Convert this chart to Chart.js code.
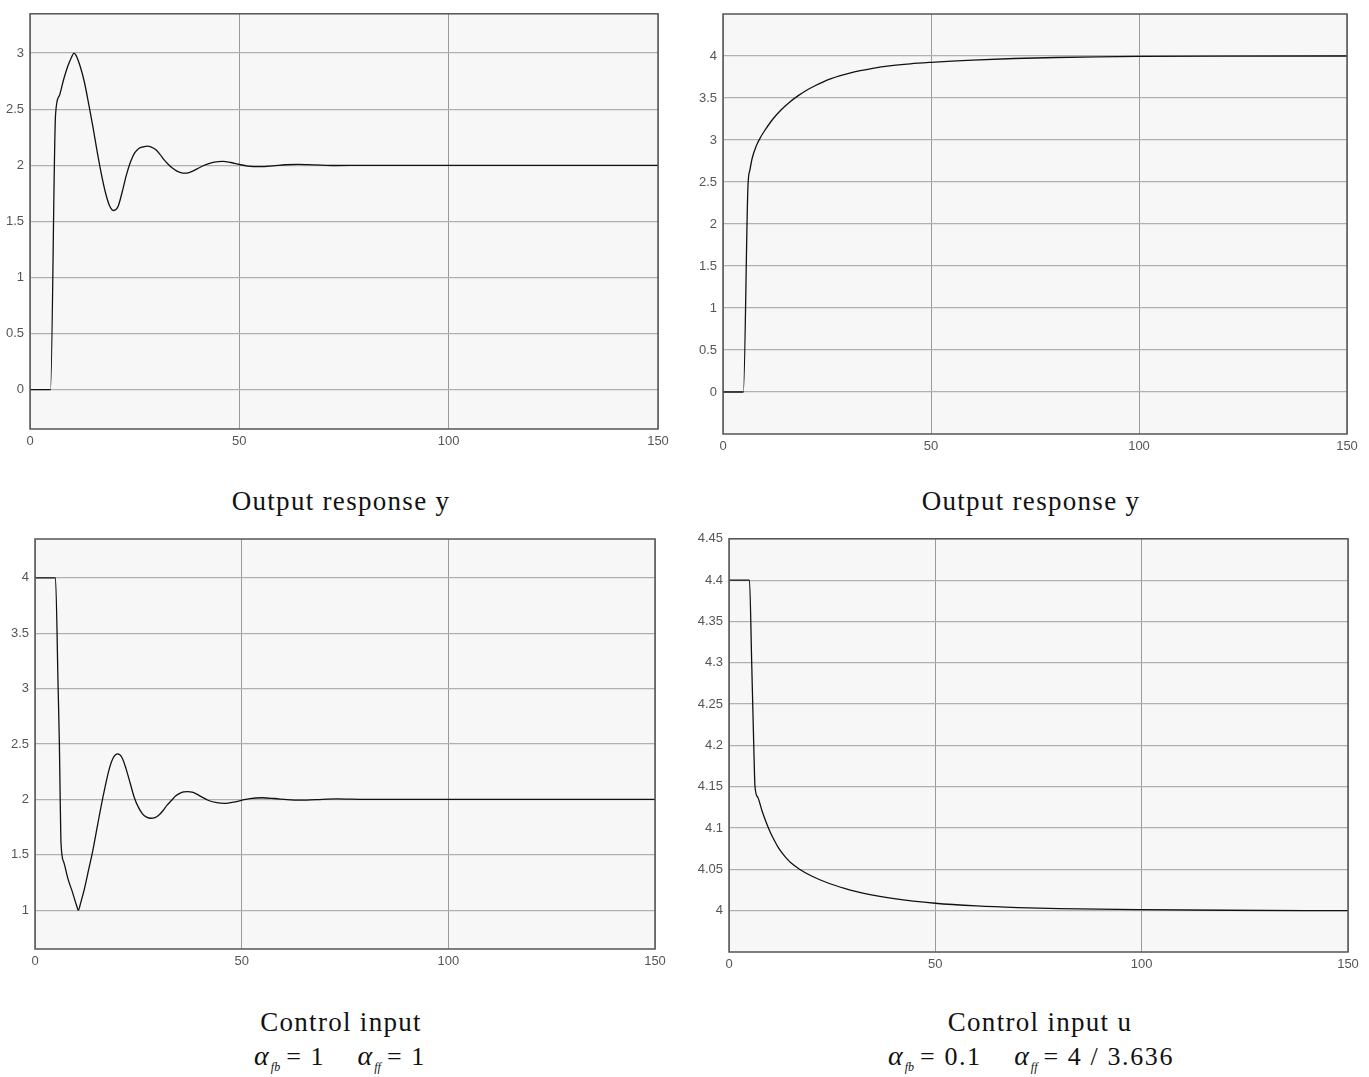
<!DOCTYPE html>
<html>
<head>
<meta charset="utf-8">
<script src="https://cdn.jsdelivr.net/npm/chart.js@4"></script>
<style>
  body { margin: 0; background: #fff; width: 1369px; height: 1077px; position: relative; overflow: hidden; }
  canvas { position: absolute; }
  .cap { position: absolute; width: 400px; text-align: center; font-family: 'Liberation Serif', 'DejaVu Serif', serif; font-size: 27px; letter-spacing: 1.3px; color: #111; white-space: nowrap; }
  .cap i { font-size: 28px; letter-spacing: 0; }
  .cap sub { font-size: 12px; font-style: italic; vertical-align: -6px; margin-left: 2px; margin-right: 6px; letter-spacing: 0; }
  .eq { font-size: 26px; letter-spacing: 1.6px; }
</style>
</head>
<body>
<canvas id="c1" width="684" height="460" style="left:0;top:0"></canvas>
<canvas id="c2" width="685" height="460" style="left:684px;top:0"></canvas>
<canvas id="c3" width="684" height="460" style="left:0;top:525px"></canvas>
<canvas id="c4" width="685" height="460" style="left:684px;top:525px"></canvas>

<div class="cap" style="left:141px;top:486px">Output response y</div>
<div class="cap" style="left:831px;top:486px">Output response y</div>
<div class="cap" style="left:141px;top:1007px">Control input</div>
<div class="cap" style="left:840px;top:1007px">Control input u</div>
<div class="cap eq" style="left:140px;top:1040px"><i>α</i><sub>fb</sub>= 1&nbsp;&nbsp;&nbsp;&nbsp;<i>α</i><sub>ff</sub>= 1</div>
<div class="cap eq" style="left:831px;top:1040px"><i>α</i><sub>fb</sub>= 0.1&nbsp;&nbsp;&nbsp;&nbsp;<i>α</i><sub>ff</sub>= 4 / 3.636</div>

<script>
// time axis ticks (same on all four plots)
const xTicks = [0, 50, 100, 150];

// top left: output y, alpha_fb = 1
const tY1 = [0, 4.9, 6.1, 7, 8, 9, 10, 10.5, 11, 12, 13, 14, 15, 16, 17, 18, 19, 20, 21, 22, 23, 24, 25, 26, 27, 28,
  29, 30, 31, 32, 33, 34, 35, 36, 37, 38, 39, 40, 42, 44, 46, 48, 50, 52, 55, 58, 61, 64, 68, 73, 80, 150];
const y1 = [0, 0, 2.45, 2.62, 2.76, 2.88, 2.97, 3.0, 2.98, 2.88, 2.74, 2.55, 2.35, 2.13, 1.93, 1.76, 1.64, 1.597, 1.63, 1.76, 1.91, 2.03, 2.11, 2.15, 2.163, 2.17,
  2.162, 2.14, 2.1, 2.05, 2.01, 1.975, 1.95, 1.935, 1.93, 1.935, 1.95, 1.97, 2.005, 2.028, 2.035, 2.025, 2.007, 1.993, 1.988, 1.995, 2.005, 2.009, 2.004, 1.998, 2.0, 2.0];
const yTicks1 = [0, 0.5, 1, 1.5, 2, 2.5, 3];

// top right: output y, alpha_fb = 0.1
const tY2 = [0, 4.9, 6.0, 6.5, 7, 8, 9, 10, 12, 14, 16, 18, 20, 22, 24, 26, 28, 30, 33, 36, 40, 45, 50, 55, 60, 70, 80, 90, 100, 120, 150];
const y2 = [0, 0, 2.45, 2.65, 2.78, 2.93, 3.03, 3.11, 3.25, 3.36, 3.45, 3.525, 3.59, 3.643, 3.69, 3.73, 3.763, 3.79, 3.825, 3.853, 3.882, 3.907, 3.925, 3.94, 3.952, 3.97, 3.982, 3.99, 3.995, 3.999, 4.0];
const yTicks2 = [0, 0.5, 1, 1.5, 2, 2.5, 3, 3.5, 4];

// bottom left: control input, alpha_fb = 1
const tU1 = [0, 4.95, 5.6, 5.9, 6.1, 6.3, 7, 8, 9, 10, 10.5, 11, 12, 13, 14, 15, 16, 17, 18, 19, 20, 21, 22, 23, 24, 25, 26, 27, 28,
  29, 30, 31, 32, 33, 34, 35, 36, 37, 38, 39, 40, 42, 44, 46, 48, 50, 52, 55, 58, 61, 64, 68, 73, 80, 150];
const u1 = [4, 4, 3.0, 2.5, 2.0, 1.6, 1.43, 1.28, 1.17, 1.05, 1.0, 1.06, 1.2, 1.37, 1.54, 1.74, 1.94, 2.12, 2.28, 2.38, 2.41, 2.38, 2.28, 2.15, 2.02, 1.93, 1.87, 1.84, 1.83,
  1.835, 1.86, 1.9, 1.95, 1.99, 2.03, 2.055, 2.068, 2.07, 2.065, 2.05, 2.03, 1.99, 1.97, 1.965, 1.975, 1.992, 2.008, 2.015, 2.008, 1.998, 1.993, 1.998, 2.004, 2.0, 2.0];
const uTicks1 = [1, 1.5, 2, 2.5, 3, 3.5, 4];

// bottom right: control input u, alpha_fb = 0.1
const tU2 = [0, 4.96, 5.5, 6.0, 6.3, 7, 8, 9, 10, 11, 12, 13, 14, 15, 17, 20, 24, 28, 33, 40, 50, 60, 70, 80, 100, 120, 150];
const u2 = [4.4, 4.4, 4.3, 4.2, 4.15, 4.137, 4.121, 4.107, 4.095, 4.085, 4.076, 4.069, 4.063, 4.058, 4.0505, 4.042, 4.0335, 4.027, 4.0205, 4.0145, 4.009, 4.0058, 4.0038, 4.0025, 4.0012, 4.0005, 4.0];
const uTicks2 = [4, 4.05, 4.1, 4.15, 4.2, 4.25, 4.3, 4.35, 4.4, 4.45];

const tickFont = { family: "'Liberation Sans Narrow', 'Liberation Sans', Arial, sans-serif", size: 13 };

const framePlugin = {
  id: 'frame',
  beforeDraw(chart) {
    const a = chart.chartArea, c = chart.ctx;
    c.save();
    c.fillStyle = '#f7f7f7';
    c.fillRect(a.left, a.top, a.right - a.left, a.bottom - a.top);
    c.restore();
  },
  afterDraw(chart) {
    const a = chart.chartArea, c = chart.ctx;
    c.save();
    c.strokeStyle = '#555';
    c.lineWidth = 1.5;
    c.strokeRect(a.left, a.top, a.right - a.left, a.bottom - a.top);
    c.restore();
  }
};

function fmt(v) {
  return String(+Number(v).toFixed(3));
}

// box = canvas placement, f = wanted plot frame in page pixels
function makePlot(id, box, f, ts, vs, yTicks, yMin, yMax) {
  const pts = ts.map((t, i) => ({ x: t, y: vs[i] }));
  new Chart(document.getElementById(id), {
    type: 'line',
    data: {
      datasets: [{
        data: pts,
        borderColor: '#111',
        borderWidth: 1.3,
        pointRadius: 0,
        cubicInterpolationMode: 'monotone',
        fill: false
      }]
    },
    options: {
      responsive: false,
      animation: false,
      events: [],
      layout: { padding: { left: 0, top: f.t - box.y, right: box.x + box.w - f.r, bottom: 0 } },
      plugins: { legend: { display: false }, tooltip: { enabled: false } },
      scales: {
        x: {
          type: 'linear', min: 0, max: 150,
          afterBuildTicks: s => { s.ticks = xTicks.map(v => ({ value: v })); },
          afterFit: s => { s.height = box.y + box.h - f.b; },
          border: { display: false },
          grid: { color: '#9a9a9a', lineWidth: 1, drawTicks: false },
          ticks: { font: tickFont, color: '#555', padding: 5, maxRotation: 0, callback: fmt }
        },
        y: {
          type: 'linear', min: yMin, max: yMax,
          afterBuildTicks: s => { s.ticks = yTicks.map(v => ({ value: v })); },
          afterFit: s => { s.width = f.l - box.x; },
          border: { display: false },
          grid: { color: '#b0b0b0', lineWidth: 1.2, drawTicks: false },
          ticks: { font: tickFont, color: '#555', padding: 6, callback: fmt }
        }
      }
    },
    plugins: [framePlugin]
  });
}

makePlot('c1', { x: 0, y: 0, w: 684, h: 460 }, { l: 30, t: 10, r: 658, b: 429 }, tY1, y1, yTicks1, -0.35, 3.35);
makePlot('c2', { x: 684, y: 0, w: 685, h: 460 }, { l: 723, t: 14, r: 1347, b: 434 }, tY2, y2, yTicks2, -0.5, 4.5);
makePlot('c3', { x: 0, y: 525, w: 684, h: 460 }, { l: 35, t: 539, r: 655, b: 949 }, tU1, u1, uTicks1, 0.65, 4.35);
makePlot('c4', { x: 684, y: 525, w: 685, h: 460 }, { l: 729, t: 536, r: 1348, b: 952 }, tU2, u2, uTicks2, 3.95, 4.45);
</script>
</body>
</html>
